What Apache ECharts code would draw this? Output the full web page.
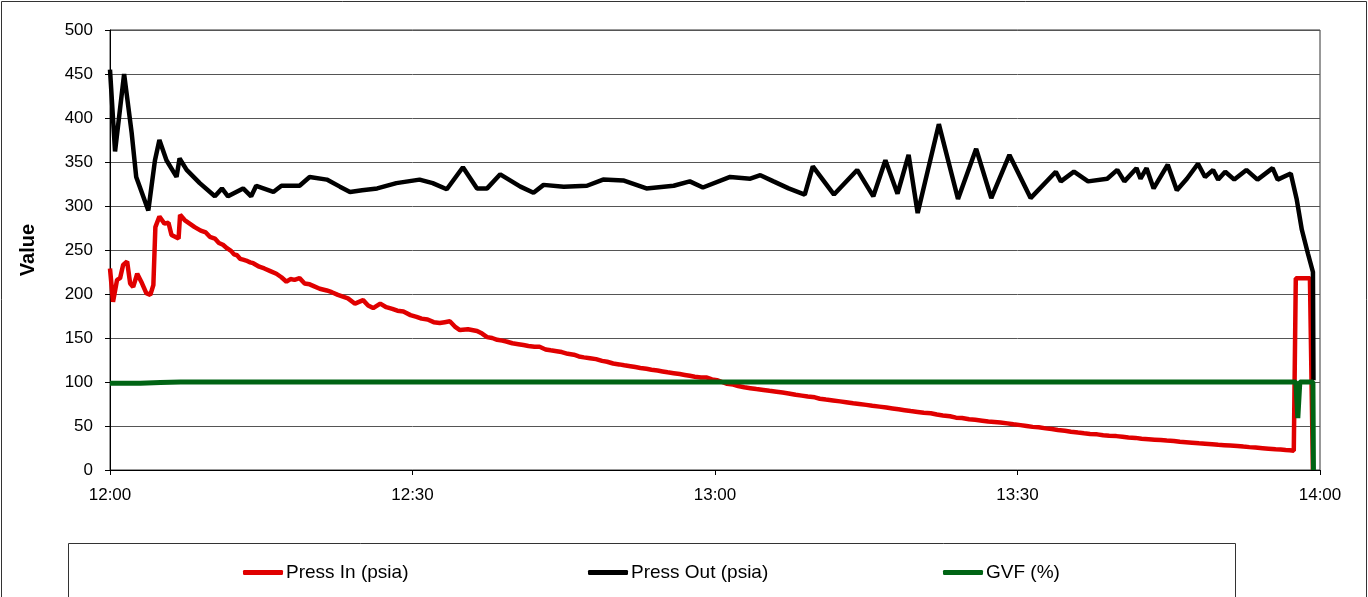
<!DOCTYPE html>
<html>
<head>
<meta charset="utf-8">
<script src="https://cdn.jsdelivr.net/npm/echarts@6/dist/echarts.min.js"></script>
<style>html,body{margin:0;padding:0;background:#fff}#c{width:1368px;height:597px}</style>
</head>
<body>
<div id="c"></div>
<script>
// x values are minutes after 12:00
var xTickLabels = ['12:00', '12:30', '13:00', '13:30', '14:00'];
var seriesNames = ['Press In (psia)', 'Press Out (psia)', 'GVF (%)'];

var pressInTime = [0,0.3,0.7,1.0,1.3,1.7,2.0,2.3,2.7,3.1,3.6,4.0,4.3,4.5,4.9,5.4,5.8,6.1,6.8,6.95,7.4,7.9,8.4,9,9.5,9.9,10.4,10.8,11.2,11.6,12.0,12.3,12.6,12.9,13.2,13.5,13.9,14.2,14.8,15.3,15.9,16.5,17.0,17.5,17.9,18.3,18.8,19.3,19.8,20.2,20.8,21.5,22.0,22.6,23.1,23.6,24.3,25.1,25.6,26.1,26.8,27.4,28,28.5,29.1,29.8,30.4,30.9,31.5,32.1,32.7,33.2,33.7,34.2,34.7,35.5,36.4,36.9,37.4,37.9,38.4,38.9,39.3,39.9,40.5,41.0,41.5,42.1,42.6,43.2,43.7,44.3,44.8,45.4,46,46.5,47,47.6,48.2,48.8,49.3,49.9,50.5,51.0,51.6,52.1,52.6,53.2,53.7,54.3,54.8,55.3,55.9,56.5,57,57.5,58,58.6,59.2,59.7,60.2,60.7,61.2,61.8,62.3,62.9,63.5,64.1,64.8,65.4,66.1,66.7,67.3,68.0,68.6,69.2,69.9,70.4,71,71.7,72.4,73.0,73.7,74.3,75,75.6,76.3,77.0,77.6,78.2,78.8,79.4,80.1,80.7,81.4,82.0,82.6,83.3,83.9,84.5,85.2,85.8,86.5,87.1,87.7,88.3,89,89.6,90.3,90.9,91.5,92.1,92.8,93.4,94,94.7,95.3,96.0,96.6,97.2,97.9,98.5,99.1,99.8,100.4,101.0,101.7,102.3,103,103.6,104.2,104.8,105.5,106.1,106.7,107.3,108,108.6,109.3,109.9,110.5,111.1,111.8,112.4,113,113.6,114.3,114.9,115.6,116.1,116.6,117.0,117.4,117.6,119.0,119.3];
var pressInValue = [229,191,216,218,233,237,212,208,223,214,201,199,210,276,288,280,281,267,263,290,284,280,276,272,270,265,263,258,256,252,249,245,244,240,239,238,236,235,231,229,226,223,219,214,217,216,218,212,211,209,206,204,202,199,197,195,189,193,187,184,189,185,183,181,180,176,174,172,171,168,167,168,169,163,159,160,158,155,151,150,148,147,146,144,143,142,141,140,140,137,136,135,134,132,131,129,128,127,126,124,123,121,120,119,118,117,116,115,114,113,112,111,110,109,108,107,106,105,105,103,102,100,98,97,95.4,94,93,92,91,90,89,88,87,85.5,84.5,83.5,82.6,81,80,79,78,77,75.8,75,74,73,72,71,70,69,68,67,66,65,64.4,63,62,61,59.5,59,57.6,57,56,55,54.5,54,53,52,51,50,49,48.5,47.3,46.5,45.5,44.5,43.5,42.5,41.7,41,40.5,39.5,39,38.5,37.9,37,36.5,35.5,35,34.5,34,33.5,33,32,31.5,31,30.3,29.8,29.2,28.6,28.2,27.8,27.3,26.6,26,25.5,24.8,24.2,23.5,23.2,22.8,22.5,22,218,218,0];

var pressOutTime = [0,0.5,1.4,2.15,2.6,3.8,4.46,4.9,5.6,6.6,6.9,7.6,8.9,10.4,11.1,11.7,13.2,14,14.5,16.2,17,18.8,19.8,21.5,22.8,23.8,25,26.5,28.4,30.7,32,33.4,35,36.4,37.4,38.7,40.7,42,43,45,47.3,48.9,50.9,53.2,55.9,57.5,58.8,61.5,63.5,64.5,65.8,67.3,68.9,69.7,71.8,74.1,75.7,76.9,78.1,79.2,80.1,82.2,84.1,85.9,87.4,89.2,91.3,93.8,94.3,95.6,97.0,98.9,99.9,100.6,101.8,102.2,102.8,103.5,104.9,105.8,106.8,107.9,108.6,109.4,109.9,110.6,111.5,112.7,113.8,115.3,115.8,117.1,117.7,118.2,118.8,119.3,119.35];
var pressOutValue = [455,362,450,383,333,295,352,375,352,333,354,341,326,311,320,311,320,311,323,316,323,323,333,330,322,316,318,320,326,330,326,319,344,320,320,336,322,315,324,322,323,330,329,320,323,328,321,333,331,335,328,320,313,345,313,341,311,352,314,358,292,393,308,365,309,358,309,339,328,339,328,331,341,328,343,331,343,320,347,318,331,348,333,341,330,339,330,341,330,343,330,337,307,273,246,225,102];

var gvfTime = [0,3,5,7,117.6,117.8,118.0,119.3,119.35];
var gvfValue = [98.5,98.5,99.5,100,100,59,100,100,0];

function zip(t, v) { var out = []; for (var i = 0; i < t.length; i++) out.push([t[i], v[i]]); return out; }

var FONT = 'Liberation Sans, Arial, sans-serif';
var chart = echarts.init(document.getElementById('c'), null, {renderer: 'canvas'});
var colors = ['#e00000', '#000000', '#006414'];

function mkLegend(name, left) {
  return {
    data: [name], left: left, top: 563, padding: 0, icon: 'roundRect', itemWidth: 40, itemHeight: 5,
    textStyle: {fontFamily: FONT, fontSize: 19, color: '#000', padding: [0, 0, 0, -2]},
    selectedMode: false
  };
}

chart.setOption({
  animation: false,
  color: colors,
  graphic: [
    {type: 'rect', shape: {x: 1.5, y: 1.5, width: 1365, height: 640}, style: {fill: 'none', stroke: '#333', lineWidth: 1}, silent: true},
    {type: 'rect', shape: {x: 68.5, y: 543.5, width: 1167, height: 100}, style: {fill: 'none', stroke: '#333', lineWidth: 1}, silent: true}
  ],
  legend: [mkLegend(seriesNames[0], 243), mkLegend(seriesNames[1], 588), mkLegend(seriesNames[2], 943)],
  grid: {left: 110, right: 48, top: 30, bottom: 127, show: true, borderColor: '#333', borderWidth: 1, backgroundColor: 'transparent'},
  xAxis: {
    type: 'value', min: 0, max: 120, interval: 30,
    axisLine: {show: true, onZero: false, lineStyle: {color: '#000', width: 1}},
    axisTick: {show: true, inside: false, length: 5, lineStyle: {color: '#000'}},
    axisLabel: {fontFamily: FONT, fontSize: 17, color: '#000', margin: 17,
      formatter: function (v) { return xTickLabels[Math.round(v / 30)]; }},
    splitLine: {show: false}
  },
  yAxis: {
    type: 'value', min: 0, max: 500, interval: 50,
    name: 'Value', nameLocation: 'middle', nameGap: 72, nameRotate: 90,
    nameTextStyle: {fontFamily: FONT, fontSize: 20, fontWeight: 'bold', color: '#000'},
    axisLine: {show: true, lineStyle: {color: '#000', width: 1}},
    axisTick: {show: true, inside: false, length: 5, lineStyle: {color: '#000'}},
    axisLabel: {fontFamily: FONT, fontSize: 17, color: '#000', margin: 17},
    splitLine: {show: true, lineStyle: {color: '#555', width: 1}}
  },
  series: [
    {name: seriesNames[0], type: 'line', data: zip(pressInTime, pressInValue), showSymbol: false, symbol: 'none', lineStyle: {width: 4.5, color: colors[0]}, z: 2},
    {name: seriesNames[1], type: 'line', data: zip(pressOutTime, pressOutValue), showSymbol: false, symbol: 'none', lineStyle: {width: 4.5, color: colors[1]}, z: 3},
    {name: seriesNames[2], type: 'line', data: zip(gvfTime, gvfValue), showSymbol: false, symbol: 'none', lineStyle: {width: 5, color: colors[2]}, z: 4}
  ]
});
</script>
</body>
</html>
